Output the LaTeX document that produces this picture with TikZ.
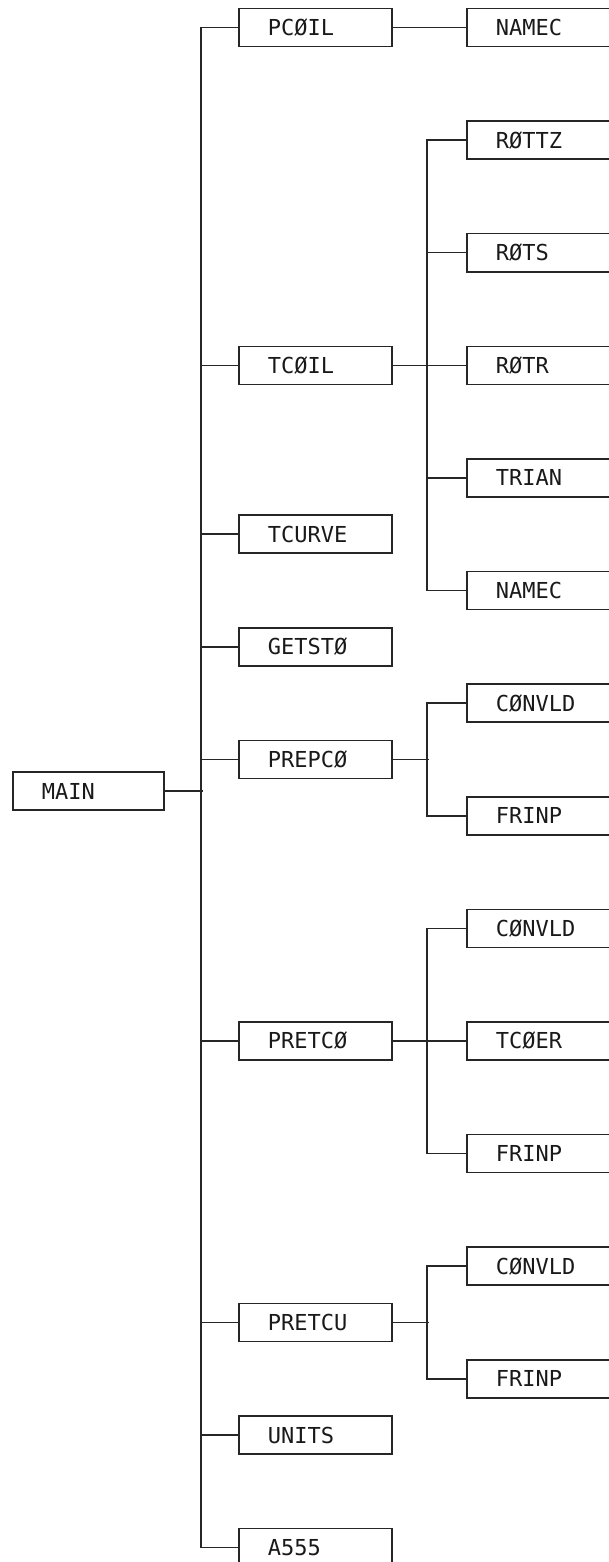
\documentclass[tikz,border=0pt]{standalone}
\usepackage{fontspec}
\newfontfamily\plotfont{DejaVu Sans Mono}
\begin{document}
\begin{tikzpicture}[x=1pt,y=-1pt,
  wire/.style={line width=1.6pt,draw=black!85},
  box/.style={draw=black!85,line width=1.6pt,rectangle,inner xsep=0pt,inner ysep=0pt,
    minimum height=38pt,text height=16pt,text depth=0pt,align=left,
    font=\plotfont\fontsize{22}{22}\selectfont,text=black!90},
  lbox/.style={box,text width=153pt},
  rbox/.style={box,text width=200pt}]
\useasboundingbox (0,0) rectangle (609,1562);
\clip (0,0) rectangle (609,1562);
% main
\node[box,text width=151pt,anchor=west] (main) at (12,791) {\hspace*{29pt}MAIN};
% first level
\node[lbox,anchor=west] (pcoil)  at (238,27.5) {\hspace*{29pt}PCØIL};
\node[lbox,anchor=west] (tcoil)  at (238,{27.5+56.3*6}) {\hspace*{29pt}TCØIL};
\node[lbox,anchor=west] (tcurve) at (238,{27.5+56.3*9}) {\hspace*{29pt}TCURVE};
\node[lbox,anchor=west] (getsto) at (238,{27.5+56.3*11}) {\hspace*{29pt}GETSTØ};
\node[lbox,anchor=west] (prepco) at (238,{27.5+56.3*13}) {\hspace*{29pt}PREPCØ};
\node[lbox,anchor=west] (pretco) at (238,{27.5+56.3*18}) {\hspace*{29pt}PRETCØ};
\node[lbox,anchor=west] (pretcu) at (238,{27.5+56.3*23}) {\hspace*{29pt}PRETCU};
\node[lbox,anchor=west] (units)  at (238,{27.5+56.3*25}) {\hspace*{29pt}UNITS};
\node[lbox,anchor=west] (a555)   at (238,{27.5+56.3*27}) {\hspace*{29pt}A555};
% second level
\node[rbox,anchor=west] (namec1)  at (466,27.5) {\hspace*{29pt}NAMEC};
\node[rbox,anchor=west] (rottz)   at (466,{27.5+56.3*2}) {\hspace*{29pt}RØTTZ};
\node[rbox,anchor=west] (rots)    at (466,{27.5+56.3*4}) {\hspace*{29pt}RØTS};
\node[rbox,anchor=west] (rotr)    at (466,{27.5+56.3*6}) {\hspace*{29pt}RØTR};
\node[rbox,anchor=west] (trian)   at (466,{27.5+56.3*8}) {\hspace*{29pt}TRIAN};
\node[rbox,anchor=west] (namec2)  at (466,{27.5+56.3*10}) {\hspace*{29pt}NAMEC};
\node[rbox,anchor=west] (convld1) at (466,{27.5+56.3*12}) {\hspace*{29pt}CØNVLD};
\node[rbox,anchor=west] (frinp1)  at (466,{27.5+56.3*14}) {\hspace*{29pt}FRINP};
\node[rbox,anchor=west] (convld2) at (466,{27.5+56.3*16}) {\hspace*{29pt}CØNVLD};
\node[rbox,anchor=west] (tcoer)   at (466,{27.5+56.3*18}) {\hspace*{29pt}TCØER};
\node[rbox,anchor=west] (frinp2)  at (466,{27.5+56.3*20}) {\hspace*{29pt}FRINP};
\node[rbox,anchor=west] (convld3) at (466,{27.5+56.3*22}) {\hspace*{29pt}CØNVLD};
\node[rbox,anchor=west] (frinp3)  at (466,{27.5+56.3*24}) {\hspace*{29pt}FRINP};
% main bus
\draw[wire] (pcoil.west) -- ++(-37,0) |- (a555.west);
\foreach \n in {tcoil,tcurve,getsto,prepco,pretco,pretcu,units}
  \draw[wire] (\n.west) -- ++(-37,0);
\draw[wire] (main.east) -- ++(38,0);
% PCOIL
\draw[wire] (pcoil.east) -- (namec1.west);
% TCOIL
\draw[wire] (rottz.west) -- ++(-39,0) |- (namec2.west);
\foreach \n in {rots,rotr,trian} \draw[wire] (\n.west) -- ++(-39,0);
\draw[wire] (tcoil.east) -- ++(36,0);
% PREPCO
\draw[wire] (convld1.west) -- ++(-39,0) |- (frinp1.west);
\draw[wire] (prepco.east) -- ++(36,0);
% PRETCO
\draw[wire] (convld2.west) -- ++(-39,0) |- (frinp2.west);
\draw[wire] (tcoer.west) -- ++(-39,0);
\draw[wire] (pretco.east) -- ++(36,0);
% PRETCU
\draw[wire] (convld3.west) -- ++(-39,0) |- (frinp3.west);
\draw[wire] (pretcu.east) -- ++(36,0);
\end{tikzpicture}
\end{document}
